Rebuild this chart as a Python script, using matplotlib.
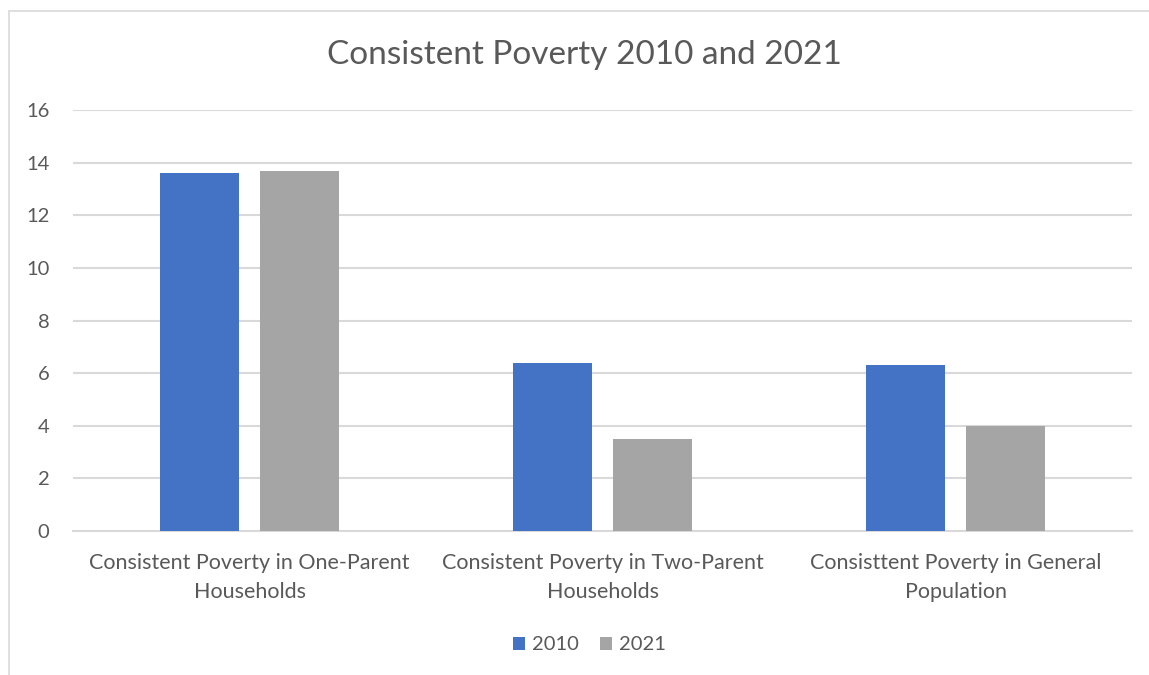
import matplotlib.pyplot as plt
import numpy as np
from matplotlib.patches import Rectangle

# Data
categories = ["Consistent Poverty in One-Parent\nHouseholds",
              "Consistent Poverty in Two-Parent\nHouseholds",
              "Consisttent Poverty in General\nPopulation"]
years = ["2010", "2021"]
values_2010 = [13.6, 6.4, 6.3]
values_2021 = [13.7, 3.5, 4.0]
colors = ["#4472C4", "#A5A5A5"]

plt.rcParams['font.family'] = ['Lato', 'DejaVu Sans']
txt = "#595959"

fig = plt.figure(figsize=(11.49, 6.75), dpi=100)
# chart frame
fig.patches.append(Rectangle((9/1149, -0.1), 1.2, 1 - 11/675 + 0.1,
                             transform=fig.transFigure, fill=False,
                             edgecolor="#D9D9D9", linewidth=1.2))

ax = fig.add_axes([73/1149, 1 - 531/675, (1132 - 73)/1149, (531 - 110)/675])

x = np.arange(len(categories))
w = 0.224
off = 0.142
ax.bar(x - off, values_2010, w, color=colors[0], label=years[0], zorder=3)
ax.bar(x + off, values_2021, w, color=colors[1], label=years[1], zorder=3)

ax.set_xlim(-0.5, 2.5)
ax.set_ylim(0, 16)
ax.set_yticks(range(0, 17, 2))
ax.yaxis.grid(True, color="#D9D9D9", linewidth=1.5, zorder=0)
ax.set_axisbelow(True)
for s in ["top", "right", "left"]:
    ax.spines[s].set_visible(False)
ax.spines["bottom"].set_color("#D9D9D9")
ax.spines["bottom"].set_linewidth(1.5)
ax.tick_params(axis="both", length=0, colors=txt)
ax.tick_params(axis="y", pad=17, labelsize=14.5)
ax.tick_params(axis="x", pad=16, labelsize=15.5)
ax.set_xticks(x)
ax.set_xticklabels(categories, linespacing=1.55)

fig.text(0.509, 1 - 55/675, "Consistent Poverty 2010 and 2021",
         ha="center", va="center", fontsize=24, color=txt)

fig.legend(loc="center", bbox_to_anchor=(0.513, 1 - 645/675), ncol=2,
           frameon=False, fontsize=14.5, labelcolor=txt, handlelength=0.6,
           handleheight=0.6, handletextpad=0.35, columnspacing=1.0)

fig.savefig("out.png", dpi=100)
